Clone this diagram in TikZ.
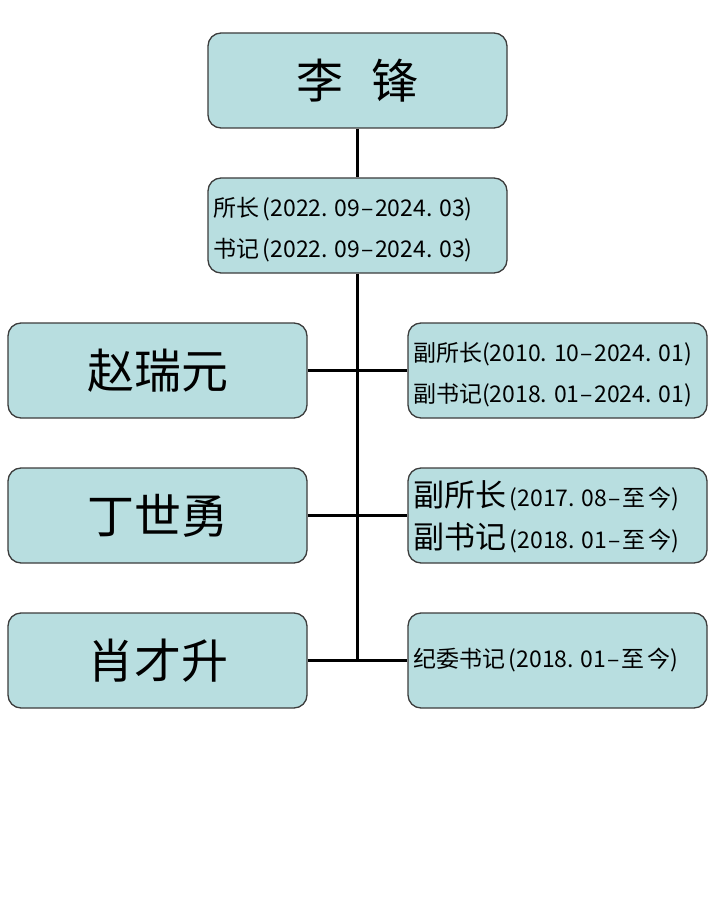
\documentclass[tikz,border=0pt]{standalone}
\usepackage{fontspec}
\setmainfont{Noto Sans CJK SC}
\newfontfamily\cjk{Noto Sans CJK SC}
\usetikzlibrary{calc}
\definecolor{boxfill}{HTML}{B8DEE0}
\definecolor{boxline}{HTML}{3C3C3C}
\def\dt{.\hspace{0.3em}}
\def\ds{\hspace{0.05em}–\hspace{0.05em}}
\def\up{\rule{0pt}{28pt}}
\tikzset{
  person/.style={draw=boxline, fill=boxfill, line width=1.3pt, rounded corners=13pt,
    minimum width=299pt, minimum height=95pt, inner sep=0pt, font=\fontsize{47}{47}\selectfont\cjk},
  duty/.style={draw=boxline, fill=boxfill, line width=1.3pt, rounded corners=13pt,
    minimum width=299pt, minimum height=95pt, inner xsep=5pt, inner ysep=0pt,
    text width=289pt, align=left, font=\fontsize{23}{41}\selectfont\cjk},
  link/.style={line width=2.4pt, black}
}
\begin{document}
\begin{tikzpicture}[x=1pt, y=-1pt]
			%%%%% START %%%%%
			\useasboundingbox[fill=white] (0, 0) rectangle (719, 909);
			
			\node[person] (li) at (357.5, 80.5) {李\hspace{0.6em}锋};
			\node[duty] (lipost) at (357.5, 225.5) {\up 所长\,(2022\dt 09\ds 2024\dt 03)\\书记\,(2022\dt 09\ds 2024\dt 03)};
			
			\node[person] (zhao) at (157.5, 370.5) {赵瑞元};
			\node[duty] (zhaopost) at (557.5, 370.5) {\up 副所长(2010\dt 10\ds 2024\dt 01)\\副书记(2018\dt 01\ds 2024\dt 01)};
			
			\node[person] (ding) at (157.5, 515.5) {丁世勇};
			\node[duty] (dingpost) at (557.5, 515.5) {\up{\fontsize{31}{31}\selectfont 副所长}\,(2017\dt 08\ds 至\,今)\\[1pt]{\fontsize{31}{31}\selectfont 副书记}\,(2018\dt 01\ds 至\,今)};
			
			\node[person] (xiao) at (157.5, 660.5) {肖才升};
			\node[duty] (xiaopost) at (557.5, 660.5) {纪委书记\,(2018\dt 01\ds 至\,今)};
			
			\draw[link] (li.south) -- (lipost.north);
			\draw[link] (lipost.south) -- (lipost.south |- xiao.east);
			\draw[link] (zhao.east) -- (zhaopost.west);
			\draw[link] (ding.east) -- (dingpost.west);
			\draw[link] (xiao.east) -- (xiaopost.west);
			
			%%%%% END %%%%%
\end{tikzpicture}
\end{document}
